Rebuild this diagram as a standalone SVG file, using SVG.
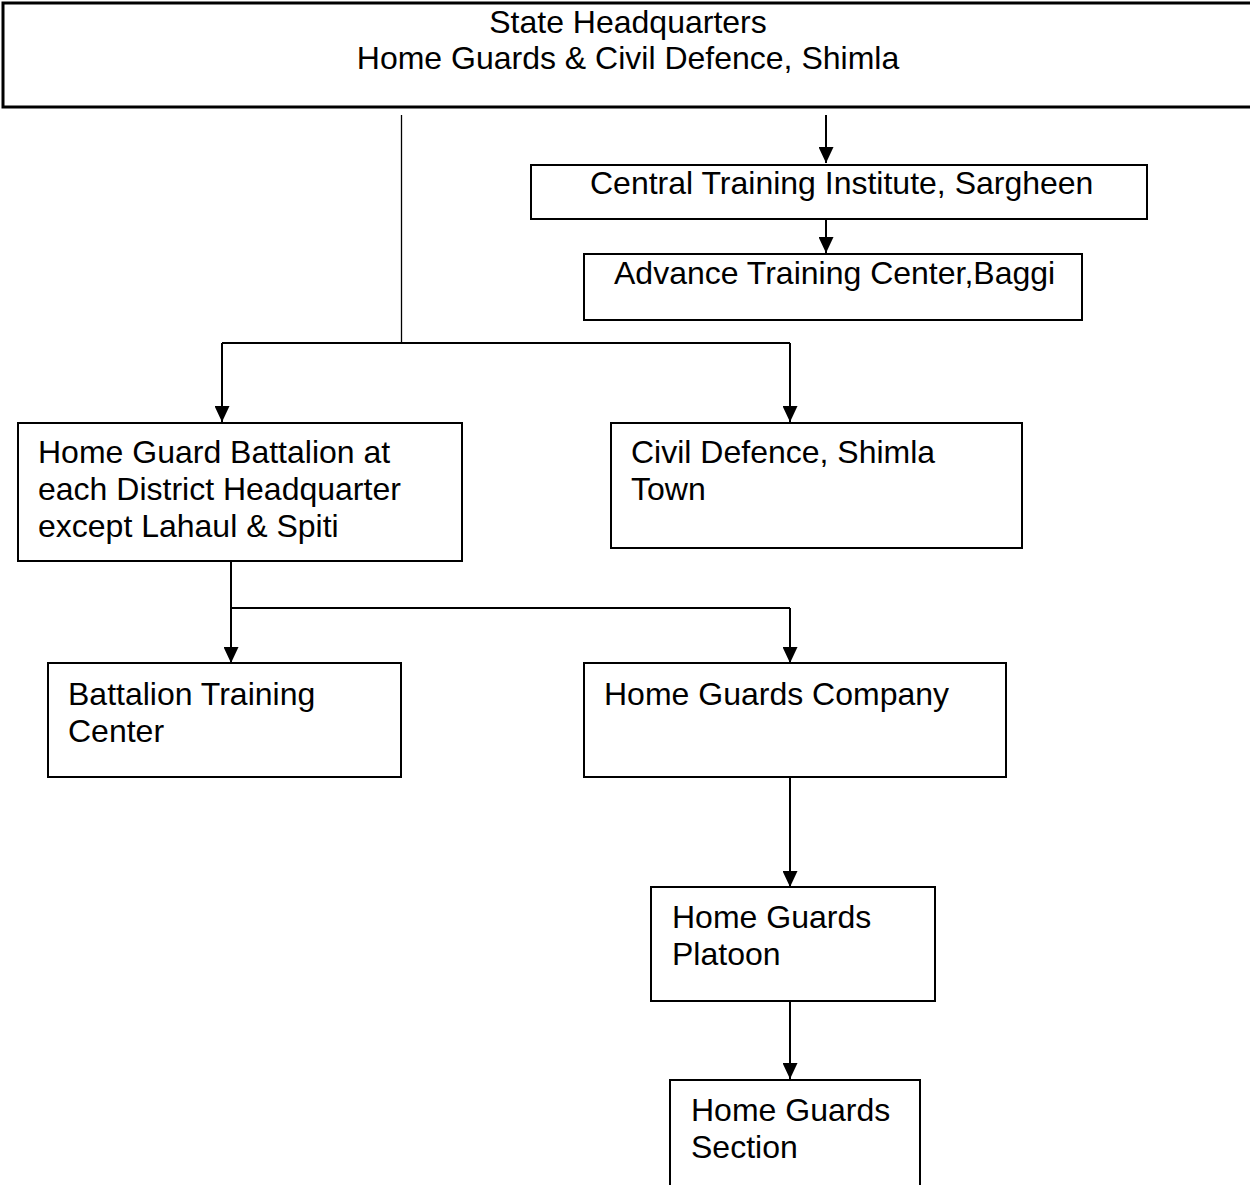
<svg xmlns="http://www.w3.org/2000/svg" width="1250" height="1185" viewBox="0 0 1250 1185">
<style>
.box{fill:#fff;stroke:#000;stroke-width:2}
.lbl{font-family:"Liberation Sans",Arial,sans-serif;font-size:32px;fill:#000}
.c{text-anchor:middle}
.ln{fill:none;stroke:#000;stroke-width:2}
.thin{fill:none;stroke:#000;stroke-width:1.3}
</style>
<defs>
<marker id="ah" markerUnits="userSpaceOnUse" markerWidth="16" markerHeight="15" refX="16" refY="7.5" orient="auto">
<path d="M0,0 L16,7.5 L0,15 z" fill="#000"/>
</marker>
</defs>
<rect width="1250" height="1185" fill="#fff"/>
<g id="connectors">
<line class="thin" x1="401.5" y1="115" x2="401.5" y2="343"/>
<line class="ln" x1="826" y1="115" x2="826" y2="163" marker-end="url(#ah)"/>
<line class="ln" x1="826" y1="220" x2="826" y2="253" marker-end="url(#ah)"/>
<line class="ln" x1="222" y1="343" x2="790" y2="343"/>
<line class="ln" x1="222" y1="343" x2="222" y2="422" marker-end="url(#ah)"/>
<line class="ln" x1="790" y1="343" x2="790" y2="422" marker-end="url(#ah)"/>
<line class="ln" x1="231" y1="561" x2="231" y2="663" marker-end="url(#ah)"/>
<line class="ln" x1="231" y1="608" x2="790" y2="608"/>
<line class="ln" x1="790" y1="608" x2="790" y2="663" marker-end="url(#ah)"/>
<line class="ln" x1="790" y1="778" x2="790" y2="887" marker-end="url(#ah)"/>
<line class="ln" x1="790" y1="1001" x2="790" y2="1079" marker-end="url(#ah)"/>
</g>
<g id="state-hq">
<rect class="box" x="3" y="3" width="1260" height="104" style="stroke-width:3"/>
<text class="lbl c" x="628" y="33">State Headquarters</text>
<text class="lbl c" x="628" y="69">Home Guards &amp; Civil Defence, Shimla</text>
</g>
<g id="cti">
<rect class="box" x="531" y="165" width="616" height="54"/>
<text class="lbl" x="590" y="194">Central Training Institute, Sargheen</text>
</g>
<g id="atc">
<rect class="box" x="584" y="254" width="498" height="66"/>
<text class="lbl" x="614" y="284">Advance Training Center,Baggi</text>
</g>
<g id="battalion">
<rect class="box" x="18" y="423" width="444" height="138"/>
<text class="lbl" x="38" y="463">Home Guard Battalion at</text>
<text class="lbl" x="38" y="500">each District Headquarter</text>
<text class="lbl" x="38" y="537">except Lahaul &amp; Spiti</text>
</g>
<g id="civil-defence">
<rect class="box" x="611" y="423" width="411" height="125"/>
<text class="lbl" x="631" y="463">Civil Defence, Shimla</text>
<text class="lbl" x="631" y="500">Town</text>
</g>
<g id="btc">
<rect class="box" x="48" y="663" width="353" height="114"/>
<text class="lbl" x="68" y="705">Battalion Training</text>
<text class="lbl" x="68" y="742">Center</text>
</g>
<g id="company">
<rect class="box" x="584" y="663" width="422" height="114"/>
<text class="lbl" x="604" y="705">Home Guards Company</text>
</g>
<g id="platoon">
<rect class="box" x="651" y="887" width="284" height="114"/>
<text class="lbl" x="672" y="928">Home Guards</text>
<text class="lbl" x="672" y="965">Platoon</text>
</g>
<g id="section">
<rect class="box" x="670" y="1080" width="250" height="130"/>
<text class="lbl" x="691" y="1121">Home Guards</text>
<text class="lbl" x="691" y="1158">Section</text>
</g>
</svg>
